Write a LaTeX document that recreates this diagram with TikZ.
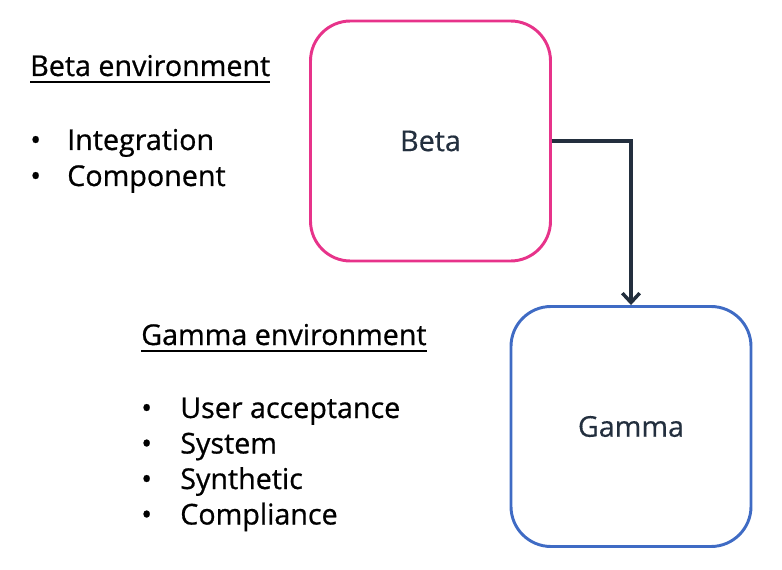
\documentclass[tikz,border=0pt]{standalone}
\usepackage{fontspec}
\setmainfont{Open Sans}
\newfontfamily\listfont{Open Sans}[FakeBold=0.7]
\newfontfamily\boxfont{Open Sans}[FakeBold=0.4]
\usetikzlibrary{positioning,arrows.meta}
\definecolor{betapink}{HTML}{E7338A}
\definecolor{gammablue}{HTML}{3F6BC4}
\definecolor{inkdark}{HTML}{232F3E}
\tikzset{>={Straight Barb[length=7pt,width=13pt]}}

\begin{document}
\begin{tikzpicture}[x=0.75pt,y=-0.75pt,
    envbox/.style={draw, line width=2.2pt, rounded corners=30pt, minimum width=180pt,
      minimum height=180pt, font=\boxfont\fontsize{21.5}{25}\selectfont, text=inkdark},
    listtext/.style={anchor=base west, inner sep=0pt, font=\listfont\fontsize{21.5}{25}\selectfont},
    headline/.style={line width=1.5pt}]
    \useasboundingbox (0,0) rectangle (782,570);
    \node[envbox, draw=betapink] (beta) at (430.5,141) {Beta};
    \node[envbox, draw=gammablue] (gamma) at (631,426.5) {Gamma};
    \draw[->, draw=inkdark, line width=2.6pt] (beta.east) -| (gamma.north);
    % Beta list
    \node[listtext] (betahead) at (30,76) {Beta environment};
    \draw[headline] ([yshift=-4.5pt]betahead.base west) -- ([yshift=-4.5pt]betahead.base east);
    \foreach \y/\t [count=\i] in {150/Integration, 186/Component} {
        \node[listtext] (betadot\i) at (30,\y) {\textbullet};
        \node[listtext] (betaitem\i) at (67,\y) {\t};
    }
    % Gamma list
    \node[listtext] (gammahead) at (141,345) {Gamma environment};
    \draw[headline] ([yshift=-4.5pt]gammahead.base west) -- ([yshift=-4.5pt]gammahead.base east);
    \foreach \y/\t [count=\i] in {418/User acceptance, 453.5/System, 489/Synthetic, 524.5/Compliance} {
        \node[listtext] (gammadot\i) at (141,\y) {\textbullet};
        \node[listtext] (gammaitem\i) at (180,\y) {\t};
    }
\end{tikzpicture}
\end{document}
